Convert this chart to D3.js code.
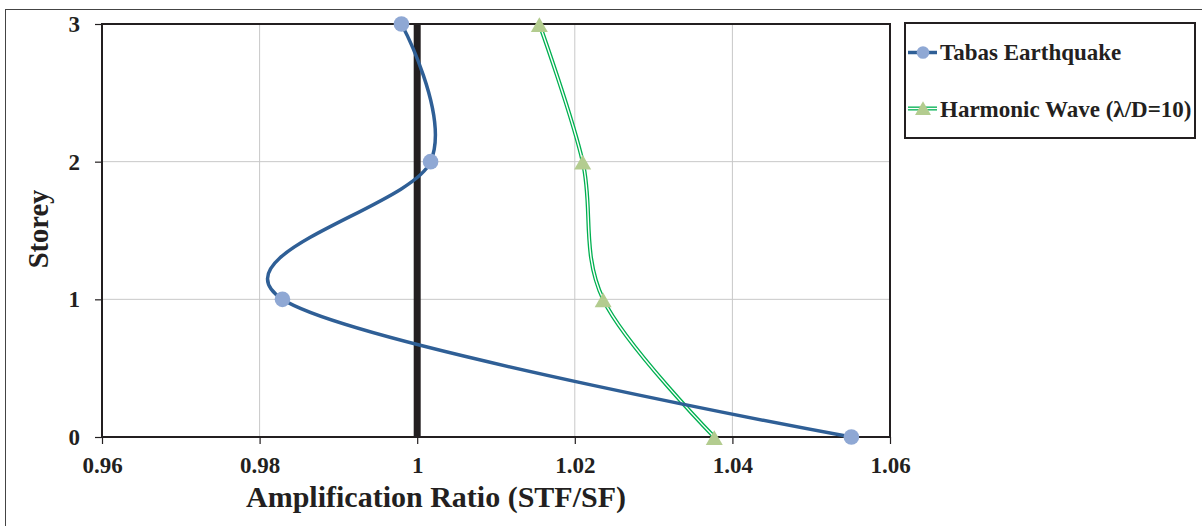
<!DOCTYPE html>
<html><head><meta charset="utf-8">
<script src="https://cdn.jsdelivr.net/npm/d3@7"></script>
<style>body{margin:0;background:#fff}svg{display:block}</style>
</head><body>
<svg id="c" width="1202" height="526"></svg>
<script>
const storeys = [0, 1, 2, 3];
const tabas = [1.0551, 0.9829, 1.0017, 0.9980];
const harmonic = [1.0377, 1.0236, 1.0210, 1.0155];
const xTicks = [0.96, 0.98, 1.00, 1.02, 1.04, 1.06];
const yTicks = [0, 1, 2, 3];
const seriesNames = ["Tabas Earthquake", "Harmonic Wave (λ/D=10)"];

const FONT = "Liberation Serif";
const svg = d3.select("#c");
const L = 102, R = 890, T = 24, B = 437;
const x = d3.scaleLinear().domain([0.96, 1.06]).range([L, R]);
const y = d3.scaleLinear().domain([0, 3]).range([B, T]);

svg.append("rect").attr("x", 5.5).attr("y", 9.5).attr("width", 1300).attr("height", 600)
  .attr("fill", "none").attr("stroke", "#444").attr("stroke-width", 1);

svg.append("g").selectAll("line").data(xTicks.slice(1, -1)).join("line")
  .attr("x1", d => x(d)).attr("x2", d => x(d)).attr("y1", T).attr("y2", B)
  .attr("stroke", "#c8c8c8").attr("stroke-width", 1);
svg.append("g").selectAll("line").data(yTicks.slice(1, -1)).join("line")
  .attr("y1", d => y(d)).attr("y2", d => y(d)).attr("x1", L).attr("x2", R)
  .attr("stroke", "#c8c8c8").attr("stroke-width", 1);

svg.append("line").attr("x1", x(1)).attr("x2", x(1)).attr("y1", T).attr("y2", B)
  .attr("stroke", "#231f20").attr("stroke-width", 7);

svg.append("rect").attr("x", L).attr("y", T).attr("width", R - L).attr("height", B - T)
  .attr("fill", "none").attr("stroke", "#231f20").attr("stroke-width", 2);

const xAxis = svg.append("g").attr("transform", `translate(0,${B})`)
  .call(d3.axisBottom(x).tickValues(xTicks).tickSize(7).tickPadding(13).tickFormat(d => String(+d.toFixed(2))));
const yAxis = svg.append("g").attr("transform", `translate(${L},0)`)
  .call(d3.axisLeft(y).tickValues(yTicks).tickSize(7).tickPadding(15).tickFormat(d3.format("d")));
[xAxis, yAxis].forEach(a => {
  a.attr("font-family", null).attr("font-size", null);
  a.select(".domain").remove();
  a.selectAll(".tick line").attr("stroke", "#231f20").attr("stroke-width", 1.2);
  a.selectAll("text").attr("fill", "#231f20").style("font-family", FONT).style("font-weight", "bold").style("font-size", "23px");
});
xAxis.selectAll("text").attr("dy", "0.71em");
yAxis.selectAll("text").attr("dy", "0.33em");

svg.append("text").attr("x", 436).attr("y", 507).attr("text-anchor", "middle").attr("fill", "#231f20")
  .style("font-family", FONT).style("font-weight", "bold").style("font-size", "30px")
  .text("Amplification Ratio (STF/SF)");
svg.append("text").attr("transform", "translate(48,229) rotate(-90)").attr("text-anchor", "middle").attr("fill", "#231f20")
  .style("font-family", FONT).style("font-weight", "bold").style("font-size", "28.5px")
  .text("Storey");

const line = d3.line().curve(d3.curveCatmullRom.alpha(0));
const tabPts = storeys.map((s, i) => [x(tabas[i]), y(s)]);
const harPts = storeys.map((s, i) => [x(harmonic[i]), y(s)]);

svg.append("path").attr("d", line(harPts)).attr("fill", "none").attr("stroke", "#00b050").attr("stroke-width", 4);
svg.append("path").attr("d", line(harPts)).attr("fill", "none").attr("stroke", "#fff").attr("stroke-width", 1.4);
const tri = d3.symbol().type(d3.symbolTriangle).size(125);
svg.append("g").selectAll("path").data(harPts).join("path")
  .attr("d", tri).attr("transform", d => `translate(${d[0]},${d[1] + 3})`).attr("fill", "#b3cc8f");

svg.append("path").attr("d", line(tabPts)).attr("fill", "none").attr("stroke", "#2f5f96").attr("stroke-width", 3.5);
svg.append("g").selectAll("circle").data(tabPts).join("circle")
  .attr("cx", d => d[0]).attr("cy", d => d[1]).attr("r", 7.8).attr("fill", "#8fa8d4");

const lg = svg.append("g");
lg.append("rect").attr("x", 905).attr("y", 23).attr("width", 290).attr("height", 115)
  .attr("fill", "#fff").attr("stroke", "#231f20").attr("stroke-width", 2);
const ly = [52.5, 108.5];
const lbase = [60, 117];
lg.append("line").attr("x1", 908).attr("x2", 937).attr("y1", ly[0]).attr("y2", ly[0]).attr("stroke", "#2f5f96").attr("stroke-width", 3.5);
lg.append("circle").attr("cx", 923).attr("cy", ly[0]).attr("r", 6.3).attr("fill", "#8fa8d4");
lg.append("line").attr("x1", 908).attr("x2", 937).attr("y1", ly[1]).attr("y2", ly[1]).attr("stroke", "#00b050").attr("stroke-width", 4);
lg.append("line").attr("x1", 908).attr("x2", 937).attr("y1", ly[1]).attr("y2", ly[1]).attr("stroke", "#fff").attr("stroke-width", 1.4);
lg.append("path").attr("d", d3.symbol().type(d3.symbolTriangle).size(110)).attr("transform", `translate(923,${ly[1] + 2})`).attr("fill", "#b3cc8f");
lg.selectAll("text.l").data(seriesNames).join("text").attr("class", "l")
  .attr("x", 940).attr("y", (d, i) => lbase[i]).attr("fill", "#231f20")
  .style("font-family", FONT).style("font-weight", "bold").style("font-size", "23px")
  .text(d => d);
</script>
</body></html>
